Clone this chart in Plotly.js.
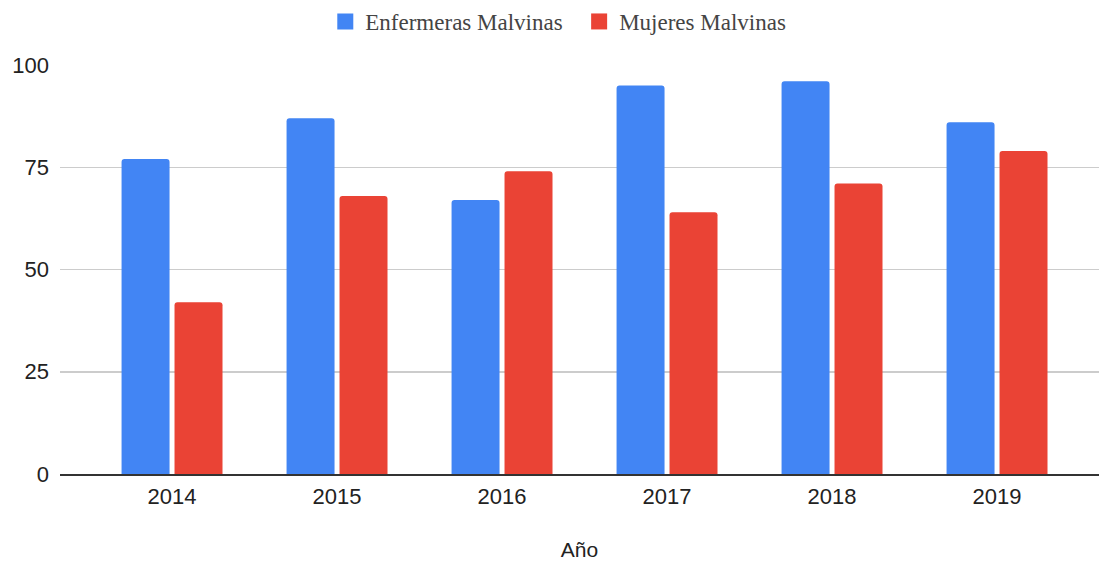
<!DOCTYPE html>
<html>
<head>
<meta charset="utf-8">
<script src="https://cdn.plot.ly/plotly-3.0.1.min.js"></script>
<style>html,body{margin:0;padding:0;background:#fff;}#chart{width:1099px;height:563px;}</style>
</head>
<body>
<div id="chart"></div>
<script>
const years = ["2014", "2015", "2016", "2017", "2018", "2019"];
const enfermeras = [77, 87, 67, 95, 96, 86];
const mujeres = [42, 68, 74, 64, 71, 79];
const seriesNames = ["Enfermeras Malvinas", "Mujeres Malvinas"];
const seriesColors = ["#4285F4", "#EA4335"];
const yTicks = [0, 25, 50, 75, 100];

const traces = [
  {type: "bar", x: years, y: enfermeras, name: seriesNames[0], marker: {color: seriesColors[0]}, showlegend: false},
  {type: "bar", x: years, y: mujeres, name: seriesNames[1], marker: {color: seriesColors[1]}, showlegend: false},
  {type: "scatter", mode: "markers", x: [null], y: [null], name: seriesNames[0] + "\u00a0\u00a0", showlegend: true,
   marker: {symbol: "square", size: 22, color: seriesColors[0]}},
  {type: "scatter", mode: "markers", x: [null], y: [null], name: seriesNames[1], showlegend: true,
   marker: {symbol: "square", size: 22, color: seriesColors[1]}}
];

const layout = {
  width: 1099, height: 563,
  margin: {l: 60, r: 0, t: 65, b: 89},
  paper_bgcolor: "#fff", plot_bgcolor: "#fff",
  barmode: "group", bargap: 0.358, bargroupgap: 0.094, barcornerradius: 3,
  font: {family: "Liberation Sans, Arial, sans-serif", size: 22, color: "#222"},
  showlegend: true,
  legend: {
    orientation: "h", xref: "container", x: 0.508, xanchor: "center", y: 1.0, yref: "container", yanchor: "top",
    font: {family: "Liberation Serif, Times New Roman, serif", size: 23, color: "#444"},
    itemsizing: "trace", itemwidth: 30, tracegroupgap: 0
  },
  xaxis: {
    type: "category", range: [-0.679, 5.618], fixedrange: true,
    showgrid: false, showline: true, linecolor: "#333", linewidth: 1.5,
    ticks: "", ticklabelstandoff: 2,
    tickfont: {size: 22, color: "#222"},
    title: {text: "Año", font: {size: 21, color: "#222"}, standoff: 34}
  },
  yaxis: {
    range: [0, 100], tickvals: yTicks, ticktext: yTicks.map(String), fixedrange: true,
    showgrid: true, gridcolor: "#cccccc", gridwidth: 1.5, zeroline: false, showline: false,
    ticks: "", ticklabelstandoff: 10,
    tickfont: {size: 22, color: "#222"}
  }
};

Plotly.newPlot("chart", traces, layout, {displayModeBar: false, staticPlot: true});
</script>
</body>
</html>
